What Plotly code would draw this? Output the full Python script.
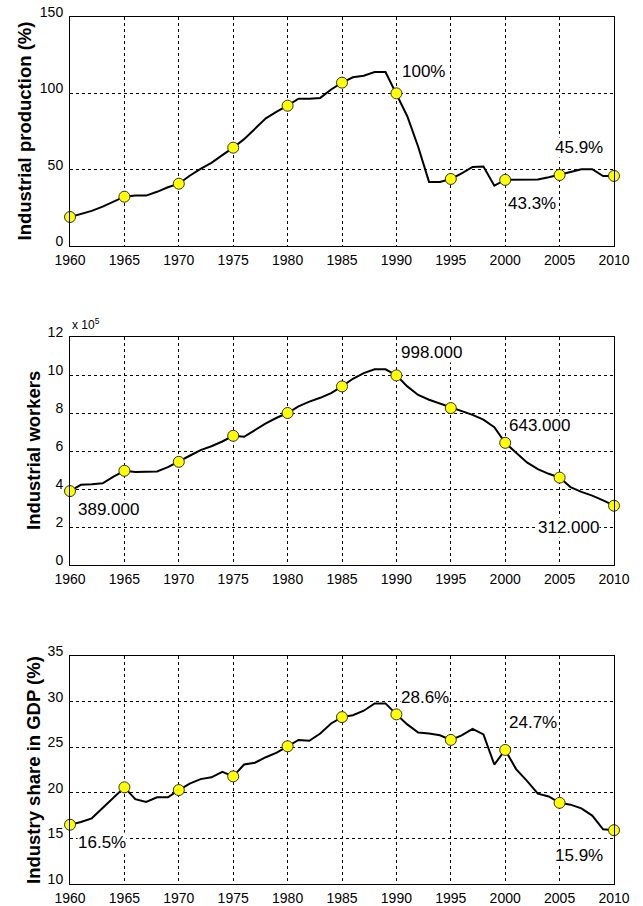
import plotly.graph_objects as go

years = list(range(1960, 2011))

production_pct = [19.0, 21.0, 23.0, 25.8, 29.0, 32.3, 33.0, 33.0, 35.5, 38.5,
                  40.8, 46.0, 50.5, 54.5, 59.5, 64.4, 70.0, 77.0, 83.6, 88.0,
                  91.9, 96.5, 96.5, 97.0, 102.5, 107.0, 110.5, 111.5, 114.0, 114.0,
                  100.0, 85.0, 65.0, 42.0, 42.0, 43.9, 47.5, 51.8, 52.0, 39.5,
                  43.3, 43.5, 43.5, 43.5, 45.0, 46.5, 48.5, 50.2, 50.3, 45.8,
                  45.9]

workers_x1e5 = [3.89, 4.22, 4.25, 4.30, 4.65, 4.96, 4.90, 4.90, 4.92, 5.15,
                5.43, 5.75, 6.05, 6.25, 6.50, 6.80, 6.75, 7.10, 7.45, 7.75,
                8.00, 8.35, 8.60, 8.80, 9.05, 9.40, 9.80, 10.10, 10.30, 10.30,
                9.98, 9.40, 8.95, 8.70, 8.50, 8.26, 8.10, 7.90, 7.65, 7.25,
                6.43, 5.90, 5.40, 5.05, 4.80, 4.60, 4.10, 3.85, 3.65, 3.40,
                3.12]

gdp_share_pct = [16.5, 16.8, 17.2, 18.3, 19.4, 20.6, 19.3, 19.0, 19.5, 19.5,
                 20.3, 21.0, 21.5, 21.7, 22.3, 21.8, 23.1, 23.3, 23.9, 24.4,
                 25.1, 25.8, 25.7, 26.5, 27.6, 28.3, 28.5, 29.0, 29.8, 29.8,
                 28.6, 27.5, 26.6, 26.5, 26.3, 25.8, 26.3, 27.0, 26.4, 23.1,
                 24.7, 22.6, 21.3, 19.9, 19.6, 18.9, 18.7, 18.3, 17.5, 16.0,
                 15.9]

marker_years = list(range(1960, 2011, 5))
x_ticks = list(range(1960, 2011, 5))

titles = ["Industrial production (%)", "Industrial workers", "Industry share in GDP (%)"]
series = [production_pct, workers_x1e5, gdp_share_pct]
y_ranges = [[0, 150], [0, 12], [10, 35]]
y_dticks = [50, 2, 5]

labels = [
    [(1990.4, 114.3, "100%"), (2004.5, 64.8, "45.9%"), (2000.2, 27.8, "43.3%")],
    [(1990.3, 11.2, "998.000"), (2000.3, 7.34, "643.000"), (1960.6, 2.94, "389.000"), (2002.9, 2.0, "312.000")],
    [(1990.3, 30.47, "28.6%"), (2000.3, 27.75, "24.7%"), (1960.6, 14.6, "16.5%"), (2004.5, 13.1, "15.9%")],
]

W, H = 643, 906
L, R = 70, 29
panels_px = [(17, 246), (337, 565), (656, 884)]
title_x_px = [24, 33, 33]

FONT = "Arial, Liberation Sans, Helvetica, sans-serif"

fig = go.Figure()
annotations = []

for i in range(3):
    xa = "x" if i == 0 else f"x{i+1}"
    ya = "y" if i == 0 else f"y{i+1}"
    yvals = series[i]
    idx = [years.index(y) for y in marker_years]
    fig.add_trace(go.Scatter(x=years, y=yvals, mode="lines",
                             line=dict(color="black", width=2),
                             xaxis=xa, yaxis=ya, showlegend=False, cliponaxis=False))
    fig.add_trace(go.Scatter(x=marker_years, y=[yvals[k] for k in idx], mode="markers",
                             marker=dict(color="#FFFF00", size=11, line=dict(color="#333333", width=1)),
                             xaxis=xa, yaxis=ya, showlegend=False, cliponaxis=False))
    top, bot = panels_px[i]
    dom = [1 - bot / H, 1 - top / H]
    axis_common = dict(showline=True, linecolor="black", linewidth=1, mirror=True,
                       showgrid=True, gridcolor="black", gridwidth=1, griddash="3px,3px",
                       zeroline=False, ticks="", automargin=False,
                       tickfont=dict(family=FONT, size=14, color="black"))
    fig.update_layout(**{
        ("xaxis" if i == 0 else f"xaxis{i+1}"): dict(
            domain=[0, 1], anchor=ya, range=[1960, 2010], tickvals=x_ticks,
            ticktext=[str(t) for t in x_ticks], ticklabelstandoff=1, **axis_common),
        ("yaxis" if i == 0 else f"yaxis{i+1}"): dict(
            domain=dom, anchor=xa, range=y_ranges[i], dtick=y_dticks[i],
            tick0=y_ranges[i][0], ticklabelshift=-5, ticklabelstandoff=3, **axis_common),
    })
    for (lx, ly, txt) in labels[i]:
        annotations.append(dict(x=lx, y=ly, xref=xa, yref=ya, text=txt, showarrow=False,
                                xanchor="left", yanchor="middle", bgcolor="white", borderpad=0,
                                font=dict(family=FONT, size=17, color="black")))
    annotations.append(dict(x=(title_x_px[i] - L) / (W - L - R), y=(dom[0] + dom[1]) / 2,
                            xref="paper", yref="paper", text=titles[i], textangle=-90,
                            showarrow=False, xanchor="center", yanchor="middle",
                            font=dict(family=FONT, size=18.5, color="black", weight="bold")))

annotations.append(dict(x=0, y=1 - panels_px[1][0] / H, xref="paper", yref="paper",
                        text="x 10<sup>5</sup>", showarrow=False, xanchor="left", yanchor="bottom",
                        yshift=3, font=dict(family=FONT, size=12, color="black")))

fig.update_layout(width=W, height=H, margin=dict(l=L, r=R, t=0, b=0),
                  paper_bgcolor="white", plot_bgcolor="white",
                  annotations=annotations, showlegend=False)

fig.write_html("out.html")
